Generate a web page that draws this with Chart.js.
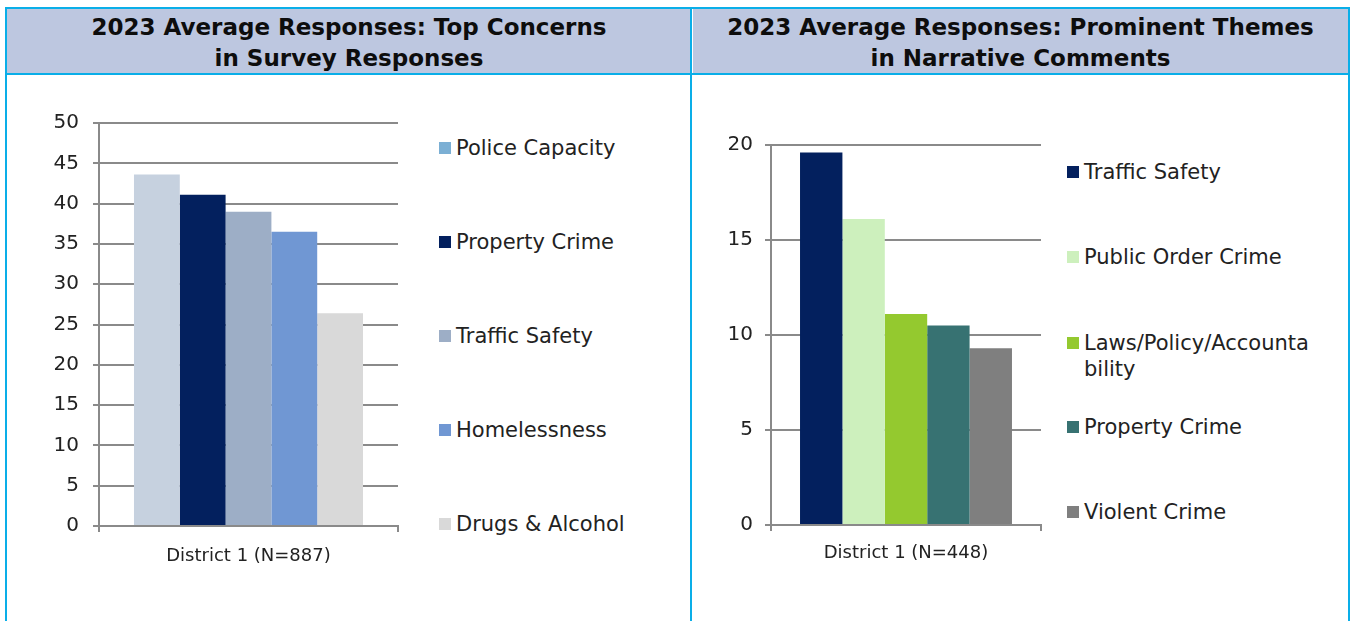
<!DOCTYPE html>
<html>
<head>
<meta charset="utf-8">
<script src="https://cdn.jsdelivr.net/npm/chart.js@4.4.1/dist/chart.umd.min.js"></script>
<style>
  html, body { margin:0; padding:0; background:#fff; width:1351px; height:621px; overflow:hidden; font-family:"DejaVu Sans", sans-serif; }
  .line { position:absolute; background:#0AAEE8; }
  .hdr { position:absolute; top:9px; height:65px; background:#BDC7E0; display:flex; align-items:center; justify-content:center; text-align:center; font-weight:bold; font-size:23px; line-height:31px; color:#0d0d0d; padding-top:3px; box-sizing:border-box; }
  .cv { position:absolute; }
  .legend { position:absolute; }
  .li { position:absolute; left:0; display:flex; align-items:flex-start; font-size:21px; line-height:26px; color:#222; }
  .sw { width:12px; height:12px; margin-top:7px; margin-right:5px; flex:none; }
  .tx { word-break:break-all; }
</style>
</head>
<body>
<div class="hdr" style="left:7px; width:684px;">2023 Average Responses: Top Concerns<br>in Survey Responses</div>
<div class="hdr" style="left:693px; width:655px;">2023 Average Responses: Prominent Themes<br>in Narrative Comments</div>

<div class="line" style="left:5px; top:7px; width:2px; height:614px;"></div>
<div class="line" style="left:690px; top:7px; width:2px; height:614px;"></div>
<div class="line" style="left:1348px; top:7px; width:2px; height:614px;"></div>
<div class="line" style="left:5px; top:7px; width:1345px; height:2px;"></div>
<div class="line" style="left:5px; top:73px; width:1345px; height:2px;"></div>

<div class="cv" style="left:0px; top:75px; width:420px; height:546px;"><canvas id="c1" width="420" height="546"></canvas></div>
<div class="cv" style="left:692px; top:75px; width:370px; height:546px;"><canvas id="c2" width="370" height="546"></canvas></div>
<div class="legend" id="leg1" style="left:439px; top:135px; width:240px;"></div>
<div class="legend" id="leg2" style="left:1067px; top:159px; width:246px;"></div>

<script>
// ---- Data ----
const leftCategories = ['District 1 (N=887)'];
const leftSeries = ['Police Capacity', 'Property Crime', 'Traffic Safety', 'Homelessness', 'Drugs & Alcohol'];
const leftValues = [43.6, 41.1, 39.0, 36.5, 26.4];
const leftTicks = { min: 0, max: 50, step: 5 };

const rightCategories = ['District 1 (N=448)'];
const rightSeries = ['Traffic Safety', 'Public Order Crime', 'Laws/Policy/Accountability', 'Property Crime', 'Violent Crime'];
const rightValues = [19.6, 16.1, 11.1, 10.5, 9.3];
const rightTicks = { min: 0, max: 20, step: 5 };

// ---- Styles ----
const leftBarColors = ['#C6D1DF', '#03205E', '#9DAEC6', '#7097D3', '#D9D9D9'];
const leftSwatchColors = ['#7BAFD4', '#03205E', '#9DAEC6', '#7097D3', '#D9D9D9'];
const rightBarColors = ['#03205E', '#CDF0BD', '#94C92F', '#377272', '#7F7F7F'];
const rightSwatchColors = rightBarColors;

const gridColor = '#8A8A8A';
const textColor = '#222';
const fontFamily = '"DejaVu Sans", sans-serif';

function makeChart(id, cats, series, values, ticks, colors, cfg) {
  const datasets = series.map((name, i) => ({
    label: name,
    data: [values[i]],
    backgroundColor: colors[i],
    borderWidth: 0,
    categoryPercentage: cfg.catPct,
    barPercentage: 1.0
  }));
  return new Chart(document.getElementById(id), {
    type: 'bar',
    data: { labels: cats, datasets },
    options: {
      responsive: false,
      animation: false,
      layout: { padding: { left: 0, right: cfg.padRight, top: cfg.padTop, bottom: 0 } },
      plugins: { legend: { display: false }, tooltip: { enabled: false } },
      scales: {
        x: {
          grid: { display: true, drawOnChartArea: false, color: gridColor, lineWidth: 2, tickLength: 6 },
          border: { display: true, color: gridColor, width: 2 },
          ticks: { color: textColor, font: { family: fontFamily, size: 18 }, padding: cfg.xPad },
          afterFit: s => { s.height = cfg.xHeight; }
        },
        y: {
          min: ticks.min, max: ticks.max,
          grid: { color: gridColor, lineWidth: 2, tickLength: 6 },
          border: { display: true, color: gridColor, width: 2 },
          ticks: { stepSize: ticks.step, color: textColor, font: { family: fontFamily, size: 20 }, padding: cfg.yPad },
          afterFit: s => { s.width = cfg.yWidth; }
        }
      }
    }
  });
}

function makeLegend(id, series, swatches, tops) {
  const el = document.getElementById(id);
  series.forEach((name, i) => {
    const item = document.createElement('div');
    item.className = 'li';
    item.style.top = tops[i] + 'px';
    const sw = document.createElement('div');
    sw.className = 'sw';
    sw.style.background = swatches[i];
    const tx = document.createElement('div');
    tx.className = 'tx';
    tx.textContent = name;
    item.appendChild(sw); item.appendChild(tx);
    el.appendChild(item);
  });
}

makeChart('c1', leftCategories, leftSeries, leftValues, leftTicks, leftBarColors,
  { catPct: 0.766, padRight: 22, padTop: 48, xHeight: 95, yWidth: 99, yPad: 14, xPad: 14 });
makeChart('c2', rightCategories, rightSeries, rightValues, rightTicks, rightBarColors,
  { catPct: 0.785, padRight: 21, padTop: 70, xHeight: 96, yWidth: 79, yPad: 12, xPad: 12 });

makeLegend('leg1', leftSeries, leftSwatchColors, [0, 94, 188, 282, 376]);
makeLegend('leg2', rightSeries, rightSwatchColors, [0, 85, 171, 255, 340]);
</script>
</body>
</html>
